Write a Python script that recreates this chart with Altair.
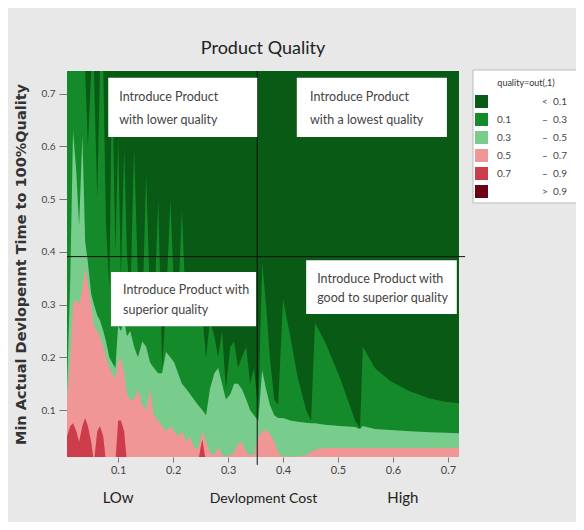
import altair as alt
import pandas as pd

# ---- contour band tops, x = development cost ----
x_cost = [0.007,0.013,0.018,0.024,0.029,0.035,0.040,0.045,0.051,0.056,
          0.062,0.067,0.073,0.078,0.084,0.089,0.095,0.100,0.105,0.111,
          0.116,0.122,0.129,0.136,0.144,0.151,0.158,0.165,0.173,0.180,
          0.187,0.195,0.202,0.209,0.216,0.224,0.231,0.238,0.245,0.253,
          0.260,0.267,0.275,0.282,0.289,0.296,0.304,0.311,0.318,0.325,
          0.333,0.340,0.347,0.355,0.362,0.369,0.376,0.384,0.391,0.400,
          0.413,0.427,0.442,0.451,0.458,0.476,0.504,0.531,0.540,0.545,
          0.567,0.595,0.631,0.667,0.695,0.720]
mid_green_top = [.745,.745,.745,.745,.745,.745,.745,.60,.745,.745,
                 .50,.745,.745,.45,.33,.745,.40,.62,.35,.60,
                 .40,.30,.60,.35,.28,.55,.30,.27,.50,.18,
                 .30,.50,.32,.30,.48,.27,.30,.29,.26,.28,
                 .20,.27,.24,.20,.25,.14,.22,.23,.18,.20,
                 .22,.15,.18,.10,.38,.30,.20,.12,.11,.31,
                 .24,.16,.10,.08,.265,.23,.16,.08,.065,.22,
                 .18,.155,.135,.122,.116,.113]
light_green_top = [.14,.35,.63,.55,.45,.62,.42,.38,.32,.30,
                   .28,.27,.25,.23,.20,.19,.18,.26,.25,.27,
                   .24,.25,.22,.20,.23,.22,.19,.18,.17,.17,
                   .21,.20,.19,.17,.15,.14,.13,.12,.11,.10,
                   .09,.14,.17,.18,.15,.12,.13,.15,.15,.14,
                   .12,.10,.09,.08,.176,.14,.11,.09,.085,.085,
                   .08,.078,.076,.075,.075,.072,.07,.068,.064,.07,
                   .064,.062,.06,.058,.057,.056]
pink_top = [.12,.20,.30,.31,.30,.33,.37,.34,.30,.26,
            .25,.24,.22,.20,.18,.17,.16,.19,.20,.17,
            .13,.12,.12,.14,.11,.10,.14,.09,.08,.07,
            .06,.07,.06,.05,.06,.04,.05,.03,.025,.06,
            .04,.02,.015,.03,.015,.012,.015,.02,.035,.04,
            .02,.015,.015,.05,.06,.062,.055,.04,.02,.012,
            .012,.012,.015,.02,.025,.028,.028,.028,.028,.028,
            .028,.028,.028,.028,.028,.028]
red_top = [.05,.07,.075,.06,.04,.07,.085,.07,.04,0,
           .06,.07,.05,0,0,0,0,.08,.08,.06,
           0,0,0,0,0,0,0,0,0,0,
           0,0,0,0,0,0,0,0,0,.045,
           0,0,0,0,0,0,0,0,0,0,
           0,0,0,0,0,0,0,0,0,0,
           0,0,0,0,0,0,0,0,0,0,
           0,0,0,0,0,0]

# ---- annotation boxes (data units) ----
box_x1 = [0.082, 0.425, 0.087, 0.442]
box_x2 = [0.353, 0.698, 0.351, 0.716]
box_y1 = [0.730, 0.730, 0.362, 0.384]
box_y2 = [0.618, 0.618, 0.259, 0.282]
ann_text = ["Introduce Product", "with lower quality",
            "Introduce Product", "with a lowest quality",
            "Introduce Product with", "superior  quality",
            "Introduce Product with", "good to superior quality"]
ann_x = [0.102, 0.102, 0.449, 0.449, 0.109, 0.109, 0.462, 0.462]
ann_y = [0.694, 0.650, 0.694, 0.650, 0.328, 0.290, 0.349, 0.313]

# ---- legend ----
leg_lo = ["", "0.1", "0.3", "0.5", "0.7", ""]
leg_sym = ["<", "–", "–", "–", "–", ">"]
leg_hi = ["0.1", "0.3", "0.5", "0.7", "0.9", "0.9"]
leg_col = ["#085a14", "#158a2a", "#78cd8c", "#f09696", "#cd3c4b", "#6e0014"]

x_ticks = [0.1, 0.2, 0.3, 0.4, 0.5, 0.6, 0.7]
y_ticks = [0.1, 0.2, 0.3, 0.4, 0.5, 0.6, 0.7]
h_line = 0.391
v_line = 0.353

W, H = 392, 386
FONT = "Lato"

df = pd.DataFrame({"x": x_cost, "mg": mid_green_top, "lg": light_green_top,
                   "pk": pink_top, "rd": red_top})
xs = alt.Scale(domain=[0.007, 0.72], nice=False, zero=False)
ys = alt.Scale(domain=[0.011, 0.743], nice=False, zero=False)

x_axis = alt.Axis(values=x_ticks, format=".1f", grid=False, domain=False,
                  tickSize=5, tickColor="#777", labelColor="#444", labelFontSize=11,
                  labelFont=FONT, title="Devlopment Cost", titleFont=FONT,
                  titleFontSize=14, titleFontWeight="normal", titleColor="#222",
                  titlePadding=16)
y_axis = alt.Axis(values=y_ticks, format=".1f", grid=False, domain=False,
                  tickSize=8, tickColor="#777", labelColor="#444", labelFontSize=10,
                  labelFont=FONT, labelPadding=4,
                  title="Min Actual Devlopennt Time to 100%Quality",
                  titleFont="DejaVu Sans", titleFontSize=14.5,
                  titleFontWeight="bold", titleColor="#333", titlePadding=13)


def X(field):
    return alt.X(field, scale=xs, axis=x_axis)


def Y(field):
    return alt.Y(field, scale=ys, axis=y_axis)


base = alt.Chart(df)
layers = []
for field, col in [("mg", leg_col[1]), ("lg", leg_col[2]), ("pk", leg_col[3]), ("rd", leg_col[4])]:
    layers.append(base.mark_area(color=col, clip=True, interpolate="linear").encode(
        x=X("x:Q"), y=Y(f"{field}:Q")))

one = alt.Data(values=[{"a": 1}])
hline = alt.Chart(pd.DataFrame({"x1": [0.007], "x2": [0.731], "y": [h_line]})).mark_rule(
    color="#111", strokeWidth=1, clip=False).encode(
    x=X("x1:Q"), x2="x2:Q", y=Y("y:Q"))
vline = alt.Chart(pd.DataFrame({"x": [v_line], "y1": [0.743], "y2": [-0.004]})).mark_rule(
    color="#111", strokeWidth=1, clip=False).encode(
    x=X("x:Q"), y=Y("y1:Q"), y2="y2:Q")

boxes = alt.Chart(pd.DataFrame({"x1": box_x1, "x2": box_x2, "y1": box_y1, "y2": box_y2})).mark_rect(
    color="white").encode(
    x=X("x1:Q"), x2="x2:Q", y=Y("y1:Q"), y2="y2:Q")
texts = alt.Chart(pd.DataFrame({"t": ann_text, "x": ann_x, "y": ann_y})).mark_text(
    align="left", baseline="middle", font=FONT, fontSize=12.5, color="#444").encode(
    x=X("x:Q"), y=Y("y:Q"), text="t:N")

low_high = alt.Chart(pd.DataFrame({"t": ["LOw", "High"], "x": [0.1, 0.618]})).mark_text(
    align="center", baseline="middle", font=FONT, fontSize=15, color="#222").encode(
    x=X("x:Q"), y=alt.value(H + 41), text="t:N")

# legend (drawn by hand to match the two-column range labels)
leg_box = alt.Chart(one).mark_rect(fill="white", stroke="#bbb", strokeWidth=1).encode(
    x=alt.value(406), x2=alt.value(513), y=alt.value(-1), y2=alt.value(132))
leg_title = alt.Chart(one).mark_text(font=FONT, fontSize=9, color="#333").encode(
    x=alt.value(459), y=alt.value(12), text=alt.value("quality=out(,1)"))
leg_df = pd.DataFrame({"i": list(range(6)), "lo": leg_lo, "sym": leg_sym,
                       "hi": leg_hi, "c": leg_col})
leg_base = alt.Chart(leg_df).transform_calculate(
    yt="24 + 18*datum.i", yb="37 + 18*datum.i", yc="30.5 + 18*datum.i")
leg_sw = leg_base.mark_rect().encode(
    x=alt.value(408), x2=alt.value(421),
    y=alt.Y("yt:Q", scale=None), y2="yb:Q",
    color=alt.Color("c:N", scale=None, legend=None))
leg_lo_t = leg_base.mark_text(align="left", baseline="middle", font=FONT, fontSize=10,
                              color="#444").encode(
    x=alt.value(430), y=alt.Y("yc:Q", scale=None), text="lo:N")
leg_sym_t = leg_base.mark_text(align="center", baseline="middle", font=FONT, fontSize=10,
                               color="#444").encode(
    x=alt.value(478), y=alt.Y("yc:Q", scale=None), text="sym:N")
leg_hi_t = leg_base.mark_text(align="left", baseline="middle", font=FONT, fontSize=10,
                              color="#444").encode(
    x=alt.value(486), y=alt.Y("yc:Q", scale=None), text="hi:N")

chart = alt.layer(*layers, hline, vline, boxes, texts, low_high,
                  leg_box, leg_title, leg_sw, leg_lo_t, leg_sym_t, leg_hi_t).properties(
    width=W, height=H,
    title=alt.TitleParams("Product Quality", font=FONT, fontSize=18, fontWeight="normal",
                          color="#222", anchor="middle", offset=12),
    autosize="none",
    padding={"left": 59, "top": 63, "right": 117, "bottom": 65},
    background="#e8e8e8",
).configure_view(fill="#085a14", stroke=None)

chart.save("out.html", embed_options={"renderer": "svg", "actions": False})
